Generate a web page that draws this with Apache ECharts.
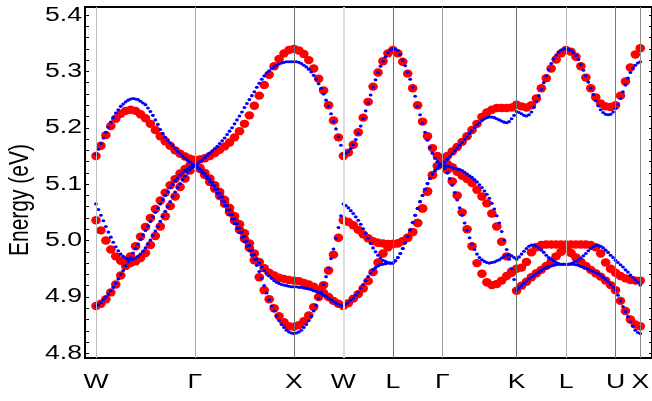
<!DOCTYPE html>
<html>
<head>
<meta charset="utf-8">
<script src="https://cdn.jsdelivr.net/npm/echarts@6/dist/echarts.min.js"></script>
<style>html,body{margin:0;padding:0;background:#fff}#c{width:652px;height:401px}</style>
</head>
<body>
<div id="c"></div>
<script>
// k-path labels and their positions along the plotted path
const kPos = [0, 2, 4, 5, 6, 7, 8.5, 9.5, 10.5, 11];
const kLabels = ['W', 'Γ', 'X', 'W', 'L', 'Γ', 'K', 'L', 'U', 'X'];
const kLineColors = ['#bdbdbd', '#a8a8a8', '#6e6e6e', '#dcdcdc', '#6e6e6e', '#a0a0a0', '#6e6e6e', '#b8b8b8', '#7a7a7a', '#8c8c8c'];
const kLineWidths = [1, 1, 1, 2, 1, 1, 1, 1, 1, 1];
const RED_STEP = 0.1;
const BLUE_STEP = 0.05;
const yTickLabels = [4.8, 4.9, 5.0, 5.1, 5.2, 5.3, 5.4];
const yTicks = [4.80,4.82,4.84,4.86,4.88,4.90,4.92,4.94,4.96,4.98,5.00,5.02,5.04,5.06,5.08,5.10,5.12,5.14,5.16,5.18,5.20,5.22,5.24,5.26,5.28,5.30,5.32,5.34,5.36,5.38,5.40];

// red bands (sampled every 0.1 along the path)
const redTop = [
5.150,5.168,5.187,5.203,5.216,5.225,5.230,5.232,5.230,5.224,5.217,5.207,5.196,5.185,5.176,5.168,5.160,5.154,5.149,5.145,
5.143,5.144,5.146,5.150,5.155,5.161,5.167,5.174,5.183,5.194,5.207,5.222,5.239,5.257,5.276,5.294,5.309,5.322,5.332,5.338,
5.340,5.337,5.331,5.320,5.305,5.287,5.266,5.240,5.213,5.183,
5.150,5.156,5.170,5.192,5.218,5.246,5.273,5.298,5.318,5.332,
5.338,5.332,5.317,5.296,5.270,5.240,5.211,5.185,5.164,5.150,
5.143,5.150,5.158,5.166,5.175,5.185,5.196,5.207,5.219,5.227,5.232,5.235,5.235,5.235,5.236,
5.241,5.238,5.236,5.240,5.252,5.270,5.288,5.305,5.321,5.332,
5.338,5.335,5.326,5.309,5.289,5.270,5.254,5.243,5.238,5.237,
5.240,5.257,5.282,5.307,5.330,5.341
];
const redMid = [
5.036,5.018,5.000,4.984,4.972,4.964,4.960,4.960,4.963,4.969,4.978,4.992,5.008,5.025,5.043,5.061,5.078,5.095,5.110,5.124,
5.136,5.129,5.120,5.110,5.098,5.086,5.072,5.058,5.043,5.029,5.013,4.995,4.977,4.962,4.951,4.943,4.938,4.934,4.932,4.930,
4.929,4.850,4.857,4.867,4.882,4.900,4.921,4.947,4.975,5.005,
5.036,5.033,5.027,5.019,5.011,5.004,4.999,4.996,4.995,4.994,
4.994,4.995,4.999,5.005,5.015,5.031,5.057,5.087,5.116,5.132,
5.137,5.125,5.105,5.080,5.050,5.020,4.990,4.960,4.941,4.926,4.921,4.923,4.929,4.937,4.945,
4.950,4.952,4.962,4.979,4.988,4.992,4.993,4.993,4.993,4.993,
4.993,4.993,4.993,4.993,4.993,4.992,4.988,4.977,4.961,4.950,
4.943,4.937,4.933,4.930,4.929,4.929
];
const redLow = [
4.884,4.888,4.896,4.908,4.922,4.938,4.955,4.972,4.990,5.007,5.024,5.040,5.056,5.071,5.085,5.098,5.109,5.119,5.127,5.133,
5.136,5.127,5.116,5.104,5.092,5.079,5.065,5.050,5.035,5.019,5.003,4.987,4.965,4.935,4.912,4.896,4.880,4.866,4.855,4.848,
4.847,4.928,4.925,4.922,4.918,4.913,4.907,4.900,4.893,4.888,
4.884,4.889,4.897,4.905,4.915,4.928,4.944,4.961,4.977,4.988,
4.994,4.995,4.999,5.005,5.015,5.031,5.057,5.087,5.116,5.132,
5.137,5.136,5.130,5.122,5.115,5.109,5.102,5.090,5.078,5.066,5.048,5.025,4.998,4.972,4.943,
4.911,4.920,4.927,4.935,4.942,4.948,4.955,4.963,4.972,4.980,
4.985,4.978,4.970,4.962,4.955,4.948,4.942,4.936,4.929,4.921,
4.912,4.893,4.875,4.860,4.851,4.848
];

// blue bands (sampled every 0.05 along the path)
const blueTop = [
5.153,5.162,5.172,5.182,5.192,5.201,5.210,5.218,5.226,5.232,5.238,5.242,5.246,5.249,5.251,5.252,5.251,5.250,5.247,5.244,
5.241,5.235,5.229,5.222,5.214,5.206,5.197,5.190,5.183,5.178,5.173,5.168,5.163,5.158,5.154,5.150,5.146,5.142,5.139,5.136,
5.133,5.136,5.140,5.143,5.147,5.151,5.155,5.159,5.163,5.167,5.172,5.177,5.182,5.188,5.194,5.200,5.207,5.214,5.221,5.228,
5.236,5.243,5.250,5.257,5.264,5.272,5.279,5.286,5.292,5.297,5.301,5.305,5.308,5.311,5.313,5.315,5.316,5.317,5.317,5.317,
5.317,5.317,5.316,5.314,5.311,5.308,5.304,5.299,5.293,5.286,5.278,5.270,5.260,5.249,5.238,5.225,5.211,5.198,5.184,5.169,
5.153,5.155,5.158,5.163,5.170,5.179,5.190,5.203,5.216,5.230,5.244,5.258,5.272,5.285,5.298,5.309,5.318,5.326,5.333,5.338,
5.340,5.339,5.337,5.330,5.320,5.310,5.299,5.286,5.272,5.256,5.238,5.223,5.208,5.192,5.178,5.165,5.155,5.146,5.140,5.136,
5.134,5.139,5.144,5.149,5.154,5.159,5.164,5.169,5.174,5.179,5.184,5.190,5.195,5.200,5.205,5.209,5.213,5.216,5.218,5.219,
5.219,5.218,5.216,5.214,5.212,5.210,5.209,5.211,5.216,5.222,5.229,5.227,5.225,5.222,5.221,5.223,5.228,5.236,5.246,5.257,
5.268,5.280,5.292,5.303,5.314,5.322,5.329,5.334,5.338,5.340,5.340,5.339,5.337,5.333,5.328,5.321,5.312,5.302,5.292,5.281,
5.270,5.259,5.248,5.239,5.232,5.227,5.224,5.223,5.224,5.228,5.234,5.242,5.252,5.264,5.276,5.288,5.298,5.305,5.311,5.315,
5.317
];
const blueMid = [
5.065,5.055,5.045,5.035,5.025,5.015,5.006,4.997,4.989,4.982,4.976,4.972,4.969,4.967,4.966,4.967,4.969,4.972,4.976,4.981,
4.987,4.994,5.001,5.009,5.017,5.025,5.034,5.043,5.052,5.060,5.069,5.078,5.086,5.094,5.101,5.108,5.114,5.120,5.125,5.129,
5.133,5.130,5.127,5.123,5.119,5.114,5.109,5.103,5.097,5.091,5.084,5.077,5.069,5.062,5.054,5.046,5.038,5.030,5.022,5.015,
5.007,4.999,4.991,4.983,4.975,4.967,4.960,4.953,4.947,4.942,4.937,4.933,4.929,4.926,4.924,4.922,4.921,4.920,4.919,4.918,
4.918,4.918,4.917,4.917,4.916,4.915,4.914,4.913,4.911,4.910,4.908,4.906,4.903,4.901,4.898,4.895,4.892,4.889,4.887,4.885,
4.884,4.887,4.890,4.894,4.898,4.903,4.908,4.915,4.922,4.929,4.936,4.942,4.948,4.952,4.955,4.957,4.958,4.959,4.960,4.960,
4.960,4.964,4.970,4.977,4.986,4.996,5.007,5.019,5.032,5.045,5.057,5.069,5.080,5.091,5.101,5.110,5.118,5.124,5.129,5.132,
5.134,5.128,5.120,5.110,5.098,5.085,5.072,5.058,5.045,5.031,5.018,5.005,4.994,4.984,4.976,4.970,4.966,4.963,4.961,4.960,
4.961,4.962,4.964,4.966,4.969,4.972,4.974,4.975,4.973,4.970,4.967,4.971,4.976,4.981,4.986,4.990,4.992,4.992,4.990,4.987,
4.983,4.979,4.974,4.970,4.967,4.964,4.961,4.959,4.958,4.958,4.958,4.958,4.959,4.961,4.963,4.966,4.969,4.973,4.977,4.982,
4.986,4.989,4.991,4.991,4.990,4.987,4.983,4.979,4.974,4.970,4.965,4.961,4.957,4.953,4.948,4.944,4.939,4.935,4.930,4.926,
4.921
];
const blueLow = [
4.884,4.886,4.890,4.895,4.900,4.905,4.911,4.917,4.924,4.932,4.940,4.947,4.955,4.962,4.970,4.978,4.986,4.994,5.002,5.010,
5.018,5.026,5.034,5.042,5.050,5.058,5.065,5.073,5.080,5.087,5.094,5.100,5.106,5.111,5.116,5.120,5.124,5.127,5.130,5.132,
5.133,5.129,5.125,5.120,5.115,5.110,5.104,5.098,5.091,5.084,5.077,5.070,5.062,5.054,5.046,5.038,5.030,5.022,5.014,5.006,
4.998,4.990,4.982,4.974,4.966,4.956,4.945,4.933,4.920,4.907,4.895,4.884,4.875,4.866,4.858,4.851,4.846,4.841,4.838,4.836,
4.835,4.836,4.838,4.841,4.846,4.851,4.858,4.866,4.875,4.885,4.897,4.909,4.922,4.936,4.951,4.968,4.985,5.004,5.023,5.044,
5.065,5.062,5.058,5.053,5.048,5.042,5.036,5.029,5.021,5.013,5.004,4.995,4.987,4.980,4.974,4.969,4.965,4.963,4.961,4.960,
4.960,4.964,4.970,4.977,4.986,4.996,5.007,5.019,5.032,5.045,5.057,5.069,5.080,5.091,5.101,5.110,5.118,5.124,5.129,5.132,
5.134,5.133,5.132,5.131,5.129,5.128,5.127,5.126,5.124,5.121,5.118,5.115,5.112,5.108,5.104,5.099,5.094,5.088,5.082,5.075,
5.066,5.056,5.044,5.031,5.016,5.001,4.984,4.967,4.950,4.931,4.912,4.916,4.920,4.924,4.928,4.932,4.935,4.938,4.941,4.944,
4.947,4.950,4.952,4.954,4.955,4.956,4.957,4.958,4.958,4.958,4.958,4.958,4.958,4.958,4.957,4.956,4.954,4.953,4.951,4.949,
4.947,4.945,4.943,4.941,4.938,4.935,4.931,4.927,4.922,4.917,4.912,4.903,4.893,4.883,4.874,4.865,4.856,4.848,4.841,4.837,
4.835
];

const redGrid = redTop.map((_, i) => +(i * RED_STEP).toFixed(2));
const blueGrid = blueTop.map((_, i) => +(i * BLUE_STEP).toFixed(2));
const pts = (grid, arr) => arr.map((e, i) => [grid[i], e]);

const X_MIN = -0.222, X_MAX = 11.237;
const Y_MIN = 4.7917, Y_MAX = 5.4142;
const LABEL_FONT = 'Liberation Sans';
const STRETCH = 1.33;

const chart = echarts.init(document.getElementById('c'), null, {renderer: 'canvas'});
const redStyle = {color: '#ff0000', opacity: 1};
const blueStyle = {color: '#0000ff', opacity: 1};
function sc(name, grid, data, size, style, z) {
  return {name, type: 'scatter', data: pts(grid, data), symbol: 'circle', symbolSize: size,
          itemStyle: style, z, silent: true, animation: false};
}
const series = [
  {type: 'scatter', data: [], silent: true, z: 1,
   markLine: {silent: true, symbol: ['none', 'none'], label: {show: false}, animation: false,
     data: kPos.map((k, i) => ({xAxis: k, lineStyle: {color: kLineColors[i], width: kLineWidths[i], type: 'solid'}}))}},
  sc('redLow', redGrid, redLow, [9.6, 8.4], redStyle, 2),
  sc('redMid', redGrid, redMid, [9.6, 8.4], redStyle, 2),
  sc('redTop', redGrid, redTop, [9.6, 8.4], redStyle, 2),
  sc('blueLow', blueGrid, blueLow, [3.8, 3.1], blueStyle, 3),
  sc('blueMid', blueGrid, blueMid, [3.8, 3.1], blueStyle, 3),
  sc('blueTop', blueGrid, blueTop, [3.8, 3.1], blueStyle, 3)
];

chart.setOption({
  animation: false,
  backgroundColor: '#fff',
  grid: {left: 85, right: -1, top: 7, bottom: 43, containLabel: false},
  xAxis: [
    {type: 'value', min: X_MIN, max: X_MAX, position: 'bottom',
     axisLine: {show: true, onZero: false, lineStyle: {color: '#000', width: 2}},
     axisTick: {show: true, inside: true, length: 4, customValues: kPos, lineStyle: {color: '#000'}},
     axisLabel: {show: false}, splitLine: {show: false}},
    {type: 'value', min: X_MIN, max: X_MAX, position: 'top',
     axisLine: {show: true, onZero: false, lineStyle: {color: '#000', width: 2}},
     axisTick: {show: false}, axisLabel: {show: false}, splitLine: {show: false}}
  ],
  yAxis: [
    {type: 'value', min: Y_MIN, max: Y_MAX, position: 'left',
     axisLine: {show: true, onZero: false, lineStyle: {color: '#000', width: 2}},
     axisTick: {show: true, inside: true, length: 4, customValues: yTicks, lineStyle: {color: '#000'}},
     axisLabel: {show: false}, splitLine: {show: false}},
    {type: 'value', min: Y_MIN, max: Y_MAX, position: 'right',
     axisLine: {show: true, onZero: false, lineStyle: {color: '#000', width: 2}},
     axisTick: {show: true, inside: true, length: 3, customValues: yTicks, lineStyle: {color: '#000'}},
     axisLabel: {show: false}, splitLine: {show: false}}
  ],
  series
});

// tick labels and axis title as (horizontally stretched) real text, placed through the axes' own scales
const labelStyle = {fontSize: 20, fontFamily: LABEL_FONT, fill: '#000'};
const graphics = [];
yTickLabels.forEach(v => {
  const py = chart.convertToPixel({yAxisIndex: 0}, v);
  graphics.push({type: 'text', x: 82, y: py, scaleX: STRETCH, silent: true,
    style: Object.assign({text: v.toFixed(1), align: 'right', verticalAlign: 'middle'}, labelStyle)});
});
kPos.forEach((k, i) => {
  const px = chart.convertToPixel({xAxisIndex: 0}, k);
  graphics.push({type: 'text', x: px, y: 382, scaleX: STRETCH, silent: true,
    style: Object.assign({text: kLabels[i], align: 'center', verticalAlign: 'middle'}, labelStyle)});
});
graphics.push({type: 'text', x: 20, y: 200, rotation: Math.PI / 2, scaleY: STRETCH, silent: true,
  style: Object.assign({text: 'Energy (eV)', align: 'center', verticalAlign: 'middle'}, labelStyle, {fontSize: 21})});
chart.setOption({graphic: graphics});
</script>
</body>
</html>
